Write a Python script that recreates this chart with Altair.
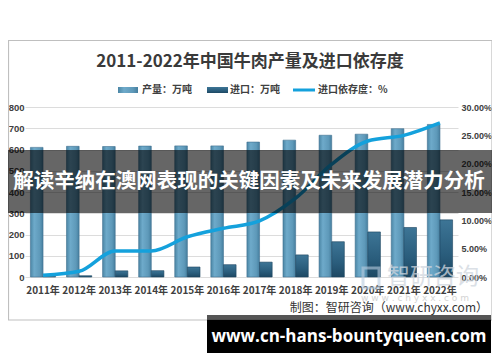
import altair as alt
import pandas as pd

years = ["2011年", "2012年", "2013年", "2014年", "2015年", "2016年",
         "2017年", "2018年", "2019年", "2020年", "2021年", "2022年"]
production = [610, 615, 614, 616, 617, 617, 635, 644, 667, 672, 698, 718]
imports = [2, 6, 29, 30, 47, 58, 70, 104, 166, 212, 233, 269]
dependency_pct = [0.3, 1.0, 4.6, 4.6, 7.1, 8.6, 9.9, 13.9, 19.9, 24.0, 25.0, 27.2]

series_names = ["产量：万吨", "进口：万吨", "进口依存度：%"]
left_ticks = [0, 100, 200, 300, 400, 500, 600, 700, 800]
right_ticks = [0, 0.05, 0.10, 0.15, 0.20, 0.25, 0.30]

title_text = "2011-2022年中国牛肉产量及进口依存度"
source_text = "制图：智研咨询（www.chyxx.com）"
banner_text = "解读辛纳在澳网表现的关键因素及未来发展潜力分析"
url_text = "www.cn-hans-bountyqueen.com"

FONT = "Noto Sans CJK SC"
NUMFONT = "Liberation Sans Narrow, Liberation Sans, sans-serif"

prod_df = pd.DataFrame({"year": years, "value": production, "series": "产量"})
imp_df = pd.DataFrame({"year": years, "value": imports, "series": "进口"})
dep_df = pd.DataFrame({"year": years, "dep": [d / 100 for d in dependency_pct]})
one = pd.DataFrame({"k": [0]})

xscale = alt.Scale(paddingInner=0.3, paddingOuter=0.15)
xaxis = alt.Axis(title=None, labelFont=FONT, labelFontSize=10, labelFontWeight="bold",
                 labelColor="#404040", ticks=False, domain=False, labelPadding=8,
                 labelAngle=0)
xoff = alt.XOffset("series:N", scale=alt.Scale(domain=["产量", "进口"], paddingInner=0, paddingOuter=0))

prod_grad = alt.Gradient(gradient="linear", x1=0, x2=1, y1=0, y2=0, stops=[
    alt.GradientStop(color="#4b86a5", offset=0),
    alt.GradientStop(color="#6eaaca", offset=0.3),
    alt.GradientStop(color="#5e99b9", offset=0.75),
    alt.GradientStop(color="#467f9f", offset=1)])
imp_grad = alt.Gradient(gradient="linear", x1=0, x2=0, y1=0, y2=1, stops=[
    alt.GradientStop(color="#3d7596", offset=0),
    alt.GradientStop(color="#2a5d7c", offset=0.6),
    alt.GradientStop(color="#1d4863", offset=1)])

left_axis = alt.Axis(title=None, values=left_ticks, labelFont=NUMFONT, labelFontSize=9.5,
                     labelFontWeight="bold", labelColor="#404040", ticks=False,
                     domain=False, grid=True, gridColor="#dcdcdc", labelPadding=1)

prod_bars = alt.Chart(prod_df).mark_bar(color=prod_grad, stroke="#3f7190", strokeWidth=0.6).encode(
    x=alt.X("year:N", sort=years, scale=xscale, axis=xaxis),
    xOffset=xoff,
    y=alt.Y("value:Q", scale=alt.Scale(domain=[0, 800], nice=False), axis=left_axis),
)
imp_bars = alt.Chart(imp_df).mark_bar(color=imp_grad, stroke="#1c4560", strokeWidth=0.6).encode(
    x=alt.X("year:N", sort=years, scale=xscale, axis=xaxis),
    xOffset=xoff,
    y=alt.Y("value:Q", scale=alt.Scale(domain=[0, 800], nice=False), axis=None),
)
line = alt.Chart(dep_df).mark_line(color="#14a1dc", strokeWidth=3.5, interpolate="monotone").encode(
    x=alt.X("year:N", sort=years, scale=xscale, axis=xaxis, bandPosition=0.5),
    y=alt.Y("dep:Q", scale=alt.Scale(domain=[0, 0.30], nice=False),
            axis=alt.Axis(title=None, orient="right", values=right_ticks, format=".2%",
                          labelFont=NUMFONT, labelFontSize=9, labelFontWeight="bold",
                          labelColor="#404040", ticks=False, domain=False, grid=False,
                          labelPadding=3)),
)

def rect(x, x2, y, y2, **kw):
    return alt.Chart(one).mark_rect(**kw).encode(
        x=alt.value(x), x2=alt.value(x2), y=alt.value(y), y2=alt.value(y2))

def text(x, y, t, **kw):
    return alt.Chart(one).mark_text(text=t, **kw).encode(x=alt.value(x), y=alt.value(y))

frame = rect(-16.5, 467, -66.5, 213, fill="white", fillOpacity=0, stroke="#bfbfbf", strokeWidth=1.2)
title = text(225, -45, title_text, font=FONT, fontSize=17, fontWeight="bold",
             color="#3a3a3a", align="center", baseline="middle")

leg = [
    rect(93, 113, -20, -14, color=prod_grad),
    text(117, -17, series_names[0], font=FONT, fontSize=10, fontWeight="bold",
         color="#404040", align="left", baseline="middle"),
    rect(182, 203, -20, -14, color=imp_grad),
    text(205, -17, series_names[1], font=FONT, fontSize=10, fontWeight="bold",
         color="#404040", align="left", baseline="middle"),
    alt.Chart(one).mark_rule(color="#14a1dc", strokeWidth=3).encode(
        x=alt.value(268), x2=alt.value(290), y=alt.value(-17)),
    text(293, -17, series_names[2], font=FONT, fontSize=10, fontWeight="bold",
         color="#404040", align="left", baseline="middle"),
]

wm = [
    rect(338, 354, 161, 181, fill="white", fillOpacity=0, stroke="#b9cde0", strokeWidth=3, opacity=0.6),
    text(362, 170, "智研咨询", font=FONT, fontSize=23, color="#cfd6de", opacity=0.75,
         align="left", baseline="middle"),
    text(390, 191, "w w w . c h y x x . c o m", font="DejaVu Sans", fontSize=9,
         color="#d4d4d4", align="center", baseline="middle"),
]
source = text(463, 201, source_text, font=FONT, fontSize=12, color="#333333",
              align="right", baseline="middle")

banner = rect(-17, 467, 43, 106, color="black", opacity=0.6)
banner_t = text(224, 75, banner_text, font=FONT, fontSize=20.5, fontWeight="bold",
                color="white", align="center", baseline="middle")

strip = rect(182, 466, 208, 212.5, color="#555555")
bottom = rect(182, 466, 212.5, 246, color="black")
bottom_t = text(324, 230, url_text, font="Open Sans", fontSize=17, fontWeight="bold",
                color="white", align="center", baseline="middle")

chart = alt.layer(
    frame, prod_bars, imp_bars, line, title, *leg, *wm, source,
    banner, banner_t, strip, bottom, bottom_t
).resolve_scale(y="independent").properties(
    width=433, height=170,
    padding={"left": 17, "top": 99, "right": 34, "bottom": 77},
    autosize=alt.AutoSizeParams(type="none"),
).configure_view(stroke=None)

chart.save("out.html", embed_options={"renderer": "svg", "actions": False})
